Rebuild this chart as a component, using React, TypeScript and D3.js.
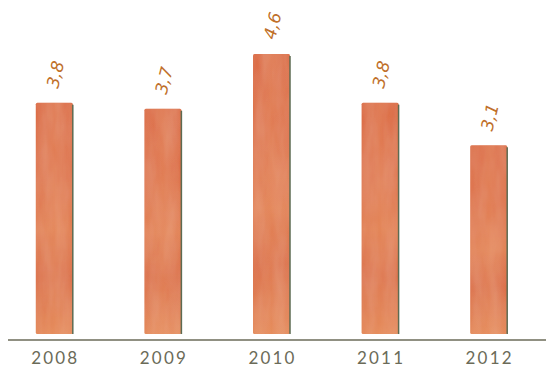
import React from "react";
import * as d3 from "d3";

const years = ["2008", "2009", "2010", "2011", "2012"];
const values = [3.8, 3.7, 4.6, 3.8, 3.1];
const valueLabels = ["3,8", "3,7", "4,6", "3,8", "3,1"];

const W = 546;
const H = 367;

export default function App() {
  const x = d3.scalePoint<string>().domain(years).range([0, 543]).padding(0.5);
  const y = d3.scaleLinear().domain([0, 4.6]).range([334, 54]);
  const bw = 37;
  return (
    <svg width={W} height={H} style={{ position: "absolute", left: 0, top: 0, background: "#fff" }}>
      <defs>
        <linearGradient id="barGrad" x1="0" y1="0" x2="0" y2="1">
          <stop offset="0" stopColor="#d9633a" />
          <stop offset="0.3" stopColor="#dc6a40" />
          <stop offset="0.55" stopColor="#e07a4c" />
          <stop offset="0.75" stopColor="#d9663d" />
          <stop offset="1" stopColor="#e2824f" />
        </linearGradient>
        <linearGradient id="barGradH" x1="0" y1="0" x2="1" y2="0">
          <stop offset="0" stopColor="#fff" stopOpacity="0.0" />
          <stop offset="0.5" stopColor="#eea070" stopOpacity="0.2" />
          <stop offset="1" stopColor="#fff" stopOpacity="0.0" />
        </linearGradient>
        <filter id="tex" x="0" y="0" width="1" height="1">
          <feTurbulence type="fractalNoise" baseFrequency="0.08 0.02" numOctaves="3" seed="4" result="noise" />
          <feColorMatrix in="noise" type="matrix"
            values="0 0 0 0 0.93  0 0 0 0 0.62  0 0 0 0 0.42  0 0 0 0.22 0" result="tint" />
          <feComposite in="tint" in2="SourceGraphic" operator="in" result="tinted" />
          <feMerge>
            <feMergeNode in="SourceGraphic" />
            <feMergeNode in="tinted" />
          </feMerge>
        </filter>
      </defs>
      {years.map((yr, i) => {
        const cx = x(yr)!;
        const top = y(values[i]);
        const bottom = y(0);
        return (
          <g key={yr}>
            <rect x={cx - bw / 2} y={top} width={bw} height={bottom - top} rx={1.5} fill="url(#barGrad)" filter="url(#tex)" />
            <rect x={cx - bw / 2} y={top} width={bw} height={bottom - top} rx={1.5} fill="url(#barGradH)" />
            <line x1={cx + bw / 2} x2={cx + bw / 2} y1={top + 2} y2={bottom} stroke="#5d6b52" strokeWidth={1.5} />
            <text
              transform={`translate(${cx + 2},${top - 28}) rotate(-76)`}
              textAnchor="middle"
              dominantBaseline="middle"
              fontFamily="DejaVu Sans"
              fontStyle="italic"
              fontSize={17}
              fill="#c0702a"
            >
              {valueLabels[i]}
            </text>
          </g>
        );
      })}
      <line x1={8} x2={546} y1={340} y2={340} stroke="#6b6b58" strokeWidth={1.5} />
      {years.map((yr) => (
        <text
          key={yr}
          x={x(yr)! + 1}
          y={364}
          textAnchor="middle"
          fontFamily="Lato"
          fontSize={17}
          letterSpacing={2.2}
          fill="#6b6b58"
        >
          {yr}
        </text>
      ))}
    </svg>
  );
}
